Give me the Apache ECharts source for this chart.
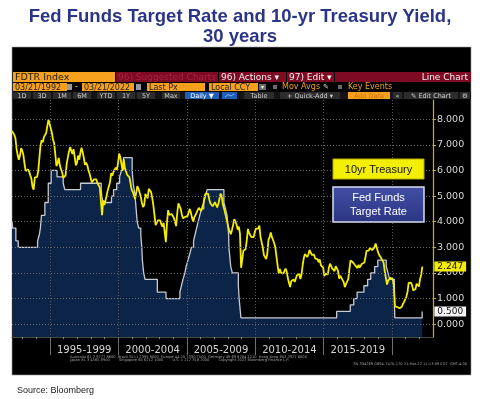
<!DOCTYPE html>
<html>
<head>
<meta charset="utf-8">
<script src="https://cdn.jsdelivr.net/npm/echarts@6.0.0/dist/echarts.min.js"></script>
<style>
  html, body { margin: 0; padding: 0; background: #fff; }
  #chart { width: 480px; height: 399px; }
</style>
</head>
<body>
<div id="chart"></div>
<script>
// Fed funds target rate (FDTR): date of change -> new level
const ffDates = ['1992-03-21','1992-04-09','1992-07-02','1992-09-04','1994-02-04','1994-03-22','1994-04-18','1994-05-17',
  '1994-08-16','1994-11-15','1995-02-01','1995-07-06','1995-12-19','1996-01-31','1997-03-25','1998-09-29','1998-10-15',
  '1998-11-17','1999-06-30','1999-08-24','1999-11-16','2000-02-02','2000-03-21','2000-05-16','2001-01-03','2001-01-31',
  '2001-03-20','2001-04-18','2001-05-15','2001-06-27','2001-08-21','2001-09-17','2001-10-02','2001-11-06','2001-12-11',
  '2002-11-06','2003-06-25','2004-06-30','2004-08-10','2004-09-21','2004-11-10','2004-12-14','2005-02-02','2005-03-22',
  '2005-05-03','2005-06-30','2005-08-09','2005-09-20','2005-11-01','2005-12-13','2006-01-31','2006-03-28','2006-05-10',
  '2006-06-29','2007-09-18','2007-10-31','2007-12-11','2008-01-22','2008-01-30','2008-03-18','2008-04-30','2008-10-08',
  '2008-10-29','2008-12-16','2015-12-16','2016-12-14','2017-03-15','2017-06-14','2017-12-13','2018-03-21','2018-06-13',
  '2018-09-26','2018-12-19','2019-07-31','2019-09-18','2019-10-30','2020-03-03','2020-03-15','2022-03-16','2022-03-21'];
const ffRates = [4.00,3.75,3.25,3.00,3.25,3.50,3.75,4.25,
  4.75,5.50,6.00,5.75,5.50,5.25,5.50,5.25,5.00,
  4.75,5.00,5.25,5.50,5.75,6.00,6.50,6.00,5.50,
  5.00,4.50,4.00,3.75,3.50,3.00,2.50,2.00,1.75,
  1.25,1.00,1.25,1.50,1.75,2.00,2.25,2.50,2.75,
  3.00,3.25,3.50,3.75,4.00,4.25,4.50,4.75,5.00,
  5.25,4.75,4.50,4.25,3.50,3.00,2.25,2.00,1.50,
  1.00,0.25,0.50,0.75,1.00,1.25,1.50,1.75,2.00,
  2.25,2.50,2.25,2.00,1.75,1.25,0.25,0.50,0.50];

// 10yr Treasury yield, one reading per month, Mar 1992 .. Mar 2022 (21st of each month)
const tsyStart = [1992, 3, 21];
const tsyYield = [
  7.54,7.48,7.39,7.26,6.84,6.59,6.42,6.59,6.87,6.77,                 // 1992 (Mar-Dec)
  6.60,6.26,5.98,5.97,6.04,5.96,5.81,5.68,5.36,5.25,5.72,5.77,       // 1993
  5.75,5.97,6.48,6.97,7.18,7.10,7.30,7.24,7.46,7.74,7.98,7.81,       // 1994
  7.78,7.47,7.20,7.06,6.63,6.17,6.28,6.49,6.20,6.04,5.93,5.71,       // 1995
  5.65,5.81,6.27,6.51,6.74,6.91,6.87,6.64,6.83,6.53,6.20,6.30,       // 1996
  6.58,6.42,6.69,6.89,6.71,6.49,6.22,6.30,6.21,6.03,5.88,5.81,       // 1997
  5.54,5.57,5.65,5.64,5.65,5.50,5.46,5.34,4.81,4.25,4.83,4.65,       // 1998
  4.72,5.00,5.23,5.18,5.54,5.90,5.79,5.94,5.92,6.11,6.03,6.28,       // 1999
  6.66,6.52,6.26,5.99,6.44,6.10,6.05,5.83,5.80,5.74,5.72,5.24,       // 2000
  5.16,5.10,4.89,5.14,5.39,5.28,5.24,4.97,4.73,4.57,4.65,5.09,       // 2001
  5.04,4.91,5.28,5.21,5.16,4.93,4.65,4.26,3.87,3.94,4.05,4.03,       // 2002
  4.05,3.90,3.81,3.96,3.57,3.20,3.98,4.45,4.27,4.29,4.30,4.27,       // 2003
  4.15,4.08,3.83,4.35,4.72,4.73,4.50,4.28,4.13,4.10,4.19,4.23,       // 2004
  4.22,4.17,4.50,4.34,4.14,4.00,4.18,4.26,4.20,4.46,4.54,4.47,       // 2005
  4.42,4.57,4.72,4.99,5.11,5.11,5.09,4.88,4.72,4.73,4.60,4.56,       // 2006
  4.76,4.72,4.56,4.69,4.75,5.10,5.00,4.67,4.52,4.53,4.15,4.10,       // 2007
  3.74,3.74,3.51,3.68,3.88,4.10,4.01,3.89,3.69,3.81,3.53,2.20,       // 2008
  2.52,2.87,2.82,2.93,3.29,3.72,3.56,3.59,3.40,3.39,3.40,3.59,       // 2009
  3.73,3.69,3.73,3.85,3.42,3.20,3.01,2.70,2.65,2.54,2.76,3.29,       // 2010
  3.39,3.58,3.41,3.46,3.17,3.00,3.00,2.30,1.98,2.15,2.01,1.98,       // 2011
  1.97,1.97,2.17,2.05,1.80,1.62,1.45,1.68,1.72,1.75,1.65,1.72,       // 2012
  1.91,1.98,1.96,1.76,1.93,2.30,2.58,2.74,2.81,2.62,2.72,2.90,       // 2013
  2.86,2.71,2.72,2.71,2.56,2.60,2.54,2.42,2.53,2.30,2.33,2.21,       // 2014
  1.88,1.98,2.04,1.94,2.20,2.36,2.32,2.17,2.17,2.07,2.26,2.24,       // 2015
  2.09,1.78,1.89,1.81,1.81,1.64,1.45,1.56,1.63,1.76,2.14,2.49,       // 2016
  2.43,2.42,2.48,2.30,2.30,2.19,2.32,2.21,2.20,2.36,2.35,2.40,       // 2017
  2.58,2.86,2.84,2.87,2.98,2.91,2.89,2.89,3.00,3.15,3.12,2.83,       // 2018
  2.71,2.68,2.57,2.53,2.40,2.07,2.06,1.55,1.70,1.71,1.81,1.86,       // 2019
  1.76,1.50,0.70,0.66,0.67,0.73,0.62,0.65,0.68,0.79,0.87,0.93,       // 2020
  1.08,1.26,1.61,1.64,1.62,1.52,1.32,1.28,1.37,1.58,1.56,1.47,       // 2021
  1.76,1.93,2.247                                                    // 2022 (Jan-Mar)
];

// axis tick / label values
const yTicks = [0, 1, 2, 3, 4, 5, 6, 7, 8];
const yearTicks = [1993,1994,1995,1996,1997,1998,1999,2000,2001,2002,2003,2004,2005,2006,2007,
  2008,2009,2010,2011,2012,2013,2014,2015,2016,2017,2018,2019,2020,2021,2022];
const periodBounds = [1995, 2000, 2005, 2010, 2015, 2020];
const periodMid = [1997.5, 2002.5, 2007.5, 2012.5, 2017.5];
const periodLabels = ['1995-1999', '2000-2004', '2005-2009', '2010-2014', '2015-2019'];

const toYear = s => {
  const [y, m, d] = s.split('-').map(Number);
  return y + ((m - 1) + (d - 1) / 31) / 12;
};
const xMin = toYear('1992-03-21');
const xMax = 2023.0;

const ffData = ffDates.map((d, i) => [toYear(d), ffRates[i]]);
const tsyData = tsyYield.map((v, i) =>
  [tsyStart[0] + ((tsyStart[1] - 1) + i + (tsyStart[2] - 1) / 31) / 12, v]);

// ---------- Bloomberg frame decorations ----------
const ORANGE = '#f6a01d';
const RED = '#7e0b23';
const BTN = '#2c2c2c';
const GRIDC = '#6a6a6a';
const deco = [];
function box(x, y, w, h, fill, label, color, o = {}) {
  deco.push({ type: 'rect', z: 20, shape: { x, y, width: w, height: h }, style: { fill } });
  if (label) {
    const align = o.align || 'left';
    deco.push({
      type: 'text', z: 21,
      x: align === 'right' ? x + w - 3 : align === 'center' ? x + w / 2 : x + 2,
      y: y + h / 2 + 0.5,
      style: { text: label, fill: color, align, verticalAlign: 'middle',
        fontSize: o.size || 7.5, fontFamily: 'DejaVu Sans', fontWeight: o.weight || 'normal' }
    });
  }
}
function txt(x, y, s, color, size, o = {}) {
  deco.push({ type: 'text', z: o.z || 21, x, y,
    style: { text: s, fill: color, fontSize: size, fontFamily: o.family || 'DejaVu Sans',
      fontWeight: o.weight || 'normal', align: o.align || 'left', verticalAlign: 'middle' } });
}

// black panel
deco.push({ type: 'rect', z: -10, shape: { x: 12, y: 47, width: 459, height: 328 },
  style: { fill: '#000', stroke: '#9a9a9a', lineWidth: 0.6 } });

// row 1
box(13, 72, 102, 10, ORANGE, 'FDTR Index', '#1b1b1b', { size: 9.5 });
box(116, 72, 102, 10, RED, '96) Suggested Charts', '#a8223f', { size: 9 });
box(219, 72, 67, 10, RED, '96) Actions ▾', '#f2f2f2', { size: 9 });
box(287, 72, 47, 10, RED, '97) Edit ▾', '#f2f2f2', { size: 9 });
box(335, 72, 136, 10, RED, 'Line Chart', '#f2f2f2', { size: 9, align: 'right' });

// row 2
box(13, 83, 54, 8, ORANGE, '03/21/1992', '#222', { size: 8 });
box(67, 84, 5, 6, '#9a9a9a');
txt(75, 87, '-', '#ddd', 8);
box(82, 83, 52, 8, ORANGE, '03/21/2022', '#222', { size: 8 });
box(136, 84, 5, 6, '#9a9a9a');
box(147, 83, 58, 8, ORANGE, 'Last Px', '#222', { size: 8 });
box(209, 83, 49, 8, ORANGE, 'Local CCY', '#222', { size: 8 });
box(259, 84, 7, 6, '#6a6a6a', '▾', '#eee', { size: 6 });
box(273, 85, 4, 4, '#6a6a6a');
txt(282, 87, 'Mov Avgs', ORANGE, 8);
txt(323, 87, '✎', '#ddd', 7);
box(338, 85, 4, 4, '#6a6a6a');
txt(348, 87, 'Key Events', ORANGE, 8);

// row 3
box(13, 92, 458, 7, '#141414');
[['1D', 22], ['3D', 42], ['1M', 62], ['6M', 82], ['YTD', 106], ['1Y', 126], ['5Y', 146], ['Max', 171]]
  .forEach(([s, cx]) => box(cx - 9, 92, 18, 7, BTN, s, '#d0d0d0', { size: 6.5, align: 'center' }));
box(185, 92, 34, 7, '#1f5fb8', 'Daily ▼', '#fff', { size: 6.5, align: 'center' });
box(222, 92, 15, 7, '#1f5fb8');
deco.push({ type: 'polyline', z: 22, shape: { points: [[225, 97], [228, 94.5], [231, 96], [234, 94]] },
  style: { stroke: '#9cc2ff', lineWidth: 0.8, fill: null } });
box(244, 92, 30, 7, BTN, 'Table', '#d0d0d0', { size: 6.5, align: 'center' });
box(280, 92, 60, 7, BTN, '+ Quick-Add ▾', '#d0d0d0', { size: 6.5, align: 'center' });
box(348, 92, 42, 7, ORANGE, 'Add Data', '#c8760f', { size: 6.5, align: 'center' });
box(393, 92, 9, 7, BTN, '«', '#d0d0d0', { size: 6.5, align: 'center' });
box(404, 92, 54, 7, BTN, '✎ Edit Chart', '#d0d0d0', { size: 6.5, align: 'center' });
box(460, 92, 10, 7, BTN, '⚙', '#d0d0d0', { size: 6.5, align: 'center' });

// series key boxes
deco.push({ type: 'rect', z: 30, shape: { x: 333, y: 159, width: 91, height: 20 },
  style: { fill: '#f4ef00', stroke: '#b8b000', lineWidth: 1 } });
txt(378.5, 169.5, '10yr Treasury', '#111', 11, { family: 'Liberation Sans', align: 'center', z: 31 });
deco.push({ type: 'rect', z: 30, shape: { x: 333, y: 187, width: 91, height: 35 },
  style: { fill: new echarts.graphic.LinearGradient(0, 0, 0, 1, [
    { offset: 0, color: '#434fa4' }, { offset: 1, color: '#2b3584' }]),
    stroke: '#d8dcef', lineWidth: 1.5 } });
txt(378.5, 198, 'Fed Funds', '#fff', 11, { family: 'Liberation Sans', align: 'center', z: 31 });
txt(378.5, 212, 'Target Rate', '#fff', 11, { family: 'Liberation Sans', align: 'center', z: 31 });

// footer small print
txt(70, 357, 'Australia 61 2 9777 8600  Brazil 5511 2395 9000  Europe 44 20 7330 7500  Germany 49 69 9204 1210  Hong Kong 852 2977 6000', '#a0a0a0', 3.6);
txt(70, 360.5, 'Japan 81 3 4565 8900        Singapore 65 6212 1000        U.S. 1 212 318 2000        Copyright 2022 Bloomberg Finance L.P.', '#a0a0a0', 3.6);
txt(467, 364.5, 'SN 334269 G694-7470-170 21-Mar-22 11:13:09 EDT  GMT-4:00', '#a0a0a0', 3.6, { align: 'right' });

// source line
txt(17, 391, 'Source: Bloomberg', '#222', 9, { family: 'Liberation Sans' });

const chart = echarts.init(document.getElementById('chart'), null, { renderer: 'canvas' });

chart.setOption({
  animation: false,
  backgroundColor: '#ffffff',
  title: {
    text: 'Fed Funds Target Rate and 10-yr Treasury Yield,\n30 years',
    left: 'center',
    top: 2,
    textStyle: { fontFamily: 'Liberation Sans', fontSize: 18.5, fontWeight: 'bold', color: '#2b3587', lineHeight: 20 }
  },
  grid: { left: 12, right: 47, top: 100, bottom: 62 },
  xAxis: [
    {
      type: 'value', min: xMin, max: xMax, position: 'bottom', z: 3,
      axisLine: { show: true, onZero: false, lineStyle: { color: '#4a4a40', width: 1 } },
      axisTick: { show: true, customValues: yearTicks, length: 2, lineStyle: { color: '#8a8a8a' } },
      axisLabel: {
        show: true, customValues: periodMid, margin: 8,
        color: '#d6d6d6', fontSize: 10, fontFamily: 'DejaVu Sans',
        formatter: v => {
          const i = periodMid.findIndex(m => Math.abs(m - v) < 0.01);
          return i >= 0 ? periodLabels[i] : '';
        }
      },
      splitLine: { show: false }
    },
    {
      type: 'value', min: xMin, max: xMax, position: 'bottom', z: 3,
      axisLine: { show: false, onZero: false },
      axisTick: { show: true, customValues: periodBounds, length: 18, lineStyle: { color: '#6e6e6e' } },
      axisLabel: { show: false },
      splitLine: { show: true, lineStyle: { color: '#5a5a5a', type: [1, 2], width: 1 } }
    }
  ],
  yAxis: {
    type: 'value', position: 'right', min: -0.5, max: 8.75, z: 3,
    axisLine: { show: true, lineStyle: { color: '#c9b800', width: 1.2 } },
    axisTick: { show: true, customValues: yTicks, length: 3, lineStyle: { color: '#c9b800' } },
    axisLabel: {
      customValues: yTicks, margin: 4, color: '#d8d8d8', fontSize: 9.5, fontFamily: 'DejaVu Sans',
      formatter: v => v.toFixed(3)
    },
    splitLine: { show: false }
  },
  series: [
    {
      name: 'Fed Funds Target Rate',
      type: 'line',
      step: 'end',
      data: ffData,
      symbol: 'none',
      z: 2,
      lineStyle: { color: '#c6cad4', width: 1.3 },
      areaStyle: { color: '#0d2449', opacity: 1, origin: 'start' },
      endLabel: {
        show: true, distance: 12,
        formatter: p => p.value[1].toFixed(3),
        backgroundColor: '#f4f4f4', color: '#111', padding: [1, 3, 0, 3],
        fontSize: 9, fontFamily: 'DejaVu Sans'
      }
    },
    {
      name: '10yr Treasury',
      type: 'line',
      data: tsyData,
      symbol: 'none',
      z: 4,
      lineStyle: { color: '#f5ed00', width: 1.8 },
      endLabel: {
        show: true, distance: 12,
        formatter: p => p.value[1].toFixed(3),
        backgroundColor: '#f5ed00', color: '#111', padding: [1, 3, 0, 3],
        fontSize: 9, fontFamily: 'DejaVu Sans'
      }
    },
    {
      // horizontal dotted grid at each whole percent, drawn over the shaded area
      name: 'grid',
      type: 'line',
      data: [],
      z: 3,
      silent: true,
      markLine: {
        silent: true,
        symbol: ['none', 'none'],
        label: { show: false },
        lineStyle: { color: GRIDC, type: [1, 2], width: 1 },
        data: yTicks.map(v => [{ coord: [xMin, v] }, { coord: [xMax, v] }])
      }
    }
  ],
  graphic: { elements: deco }
});
</script>
</body>
</html>
